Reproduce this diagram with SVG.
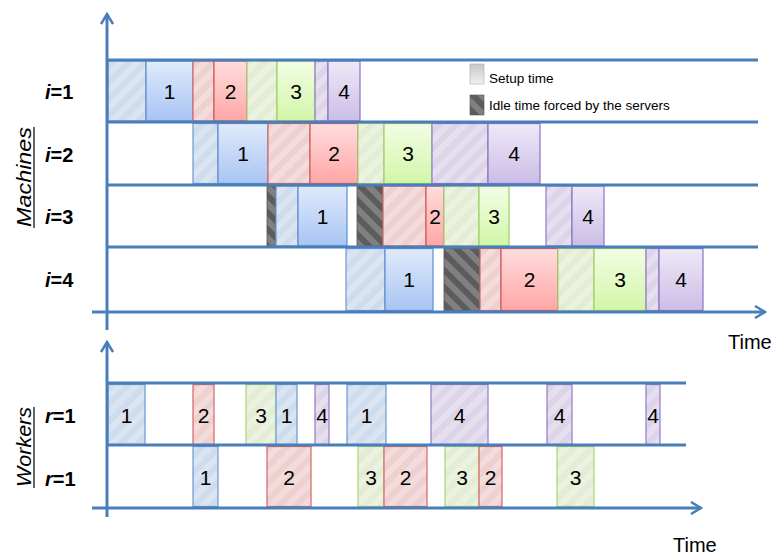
<svg xmlns="http://www.w3.org/2000/svg" width="776" height="556" viewBox="0 0 776 556">
<style>
.ax{stroke:#4a7ebb;stroke-width:3;fill:none}
.n{font-family:"Liberation Sans",Arial,sans-serif;font-size:21px;text-anchor:middle;fill:#000}
.lb{font-family:"Liberation Sans",Arial,sans-serif;font-size:20px;font-weight:bold;fill:#000}
.ttl{font-family:"Liberation Sans",Arial,sans-serif;font-size:21px;font-style:italic;fill:#000}
.tm{font-family:"Liberation Sans",Arial,sans-serif;font-size:20px;fill:#000}
.lg{font-family:"Liberation Sans",Arial,sans-serif;font-size:13.5px;fill:#000}
.jB{fill:url(#gB);stroke:#5d8ed3;stroke-width:1.2}
.jR{fill:url(#gR);stroke:#d05a57;stroke-width:1.2}
.jG{fill:url(#gG);stroke:#9fcf66;stroke-width:1.2}
.jP{fill:url(#gP);stroke:#8e72c4;stroke-width:1.2}
.sB{fill:url(#pB);stroke:#6a98d4;stroke-width:1.2}
.sR{fill:url(#pR);stroke:#d66663;stroke-width:1.2}
.sG{fill:url(#pG);stroke:#a8d472;stroke-width:1.2}
.sP{fill:url(#pP);stroke:#9479c6;stroke-width:1.2}
.id{fill:url(#pI);stroke:#555;stroke-width:0.8}
</style>
<defs>
<linearGradient id="gB" x1="0" y1="0" x2="0" y2="1"><stop offset="0" stop-color="#e0eafb"/><stop offset="1" stop-color="#a8c5f3"/></linearGradient>
<linearGradient id="gR" x1="0" y1="0" x2="0" y2="1"><stop offset="0" stop-color="#ffdddd"/><stop offset="1" stop-color="#ffa6a6"/></linearGradient>
<linearGradient id="gG" x1="0" y1="0" x2="0" y2="1"><stop offset="0" stop-color="#f2fde4"/><stop offset="1" stop-color="#d3f6a9"/></linearGradient>
<linearGradient id="gP" x1="0" y1="0" x2="0" y2="1"><stop offset="0" stop-color="#eee9f7"/><stop offset="1" stop-color="#cbbde7"/></linearGradient>
<linearGradient id="gS" x1="0" y1="0" x2="0" y2="1"><stop offset="0" stop-color="#c8c8c8"/><stop offset="1" stop-color="#f0f0f0"/></linearGradient>
<pattern id="pB" width="12" height="12" patternUnits="userSpaceOnUse" patternTransform="rotate(45)"><rect width="12" height="12" fill="#dbe5f2"/><rect width="6" height="12" fill="#cfdcee"/></pattern>
<pattern id="pR" width="12" height="12" patternUnits="userSpaceOnUse" patternTransform="rotate(45)"><rect width="12" height="12" fill="#f4dcdc"/><rect width="6" height="12" fill="#eed0d0"/></pattern>
<pattern id="pG" width="12" height="12" patternUnits="userSpaceOnUse" patternTransform="rotate(45)"><rect width="12" height="12" fill="#ecf2e0"/><rect width="6" height="12" fill="#e3ecd4"/></pattern>
<pattern id="pP" width="12" height="12" patternUnits="userSpaceOnUse" patternTransform="rotate(45)"><rect width="12" height="12" fill="#e6e0ee"/><rect width="6" height="12" fill="#dcd4e8"/></pattern>
<pattern id="pI" width="12" height="12" patternUnits="userSpaceOnUse" patternTransform="rotate(-45)"><rect width="12" height="12" fill="#808080"/><rect width="6" height="12" fill="#5c5c5c"/></pattern>
<marker id="ar" viewBox="0 0 14 14" refX="12" refY="7" markerWidth="14" markerHeight="14" markerUnits="userSpaceOnUse" orient="auto"><path d="M2,1 L12,7 L2,13" fill="none" stroke="#4a7ebb" stroke-width="2.5"/></marker>
</defs>
<rect width="776" height="556" fill="#fff"/>

<!-- machine row 1 -->
<g id="m1">
<g id="m1-s1"><rect class="sB" x="108" y="61" width="38" height="60"/></g>
<g id="m1-j1"><rect class="jB" x="146" y="61" width="47" height="60"/><text class="n" x="169.5" y="99">1</text></g>
<g id="m1-s2"><rect class="sR" x="193" y="61" width="21" height="60"/></g>
<g id="m1-j2"><rect class="jR" x="214" y="61" width="33" height="60"/><text class="n" x="230.5" y="99">2</text></g>
<g id="m1-s3"><rect class="sG" x="247" y="61" width="30" height="60"/></g>
<g id="m1-j3"><rect class="jG" x="277" y="61" width="38" height="60"/><text class="n" x="296" y="99">3</text></g>
<g id="m1-s4"><rect class="sP" x="315" y="61" width="13" height="60"/></g>
<g id="m1-j4"><rect class="jP" x="328" y="61" width="32" height="60"/><text class="n" x="344" y="99">4</text></g>
</g>
<!-- machine row 2 -->
<g id="m2">
<g id="m2-s1"><rect class="sB" x="193" y="123.5" width="25" height="60"/></g>
<g id="m2-j1"><rect class="jB" x="218" y="123.5" width="50" height="60"/><text class="n" x="243" y="161">1</text></g>
<g id="m2-s2"><rect class="sR" x="268" y="123.5" width="42" height="60"/></g>
<g id="m2-j2"><rect class="jR" x="310" y="123.5" width="48" height="60"/><text class="n" x="334" y="161">2</text></g>
<g id="m2-s3"><rect class="sG" x="358" y="123.5" width="26" height="60"/></g>
<g id="m2-j3"><rect class="jG" x="384" y="123.5" width="48" height="60"/><text class="n" x="408" y="161">3</text></g>
<g id="m2-s4"><rect class="sP" x="432" y="123.5" width="56" height="60"/></g>
<g id="m2-j4"><rect class="jP" x="488" y="123.5" width="52" height="60"/><text class="n" x="514" y="161">4</text></g>
</g>
<!-- machine row 3 -->
<g id="m3">
<g id="m3-i1"><rect class="id" x="267" y="186" width="9" height="60"/></g>
<g id="m3-s1"><rect class="sB" x="276" y="186" width="22" height="60"/></g>
<g id="m3-j1"><rect class="jB" x="298" y="186" width="49" height="60"/><text class="n" x="322.5" y="224">1</text></g>
<g id="m3-i2"><rect class="id" x="357" y="186" width="26" height="60"/></g>
<g id="m3-s2"><rect class="sR" x="383" y="186" width="43" height="60"/></g>
<g id="m3-j2"><rect class="jR" x="426" y="186" width="18" height="60"/><text class="n" x="435" y="224">2</text></g>
<g id="m3-s3"><rect class="sG" x="444" y="186" width="35" height="60"/></g>
<g id="m3-j3"><rect class="jG" x="479" y="186" width="30" height="60"/><text class="n" x="494" y="224">3</text></g>
<g id="m3-s4"><rect class="sP" x="546" y="186" width="26" height="60"/></g>
<g id="m3-j4"><rect class="jP" x="572" y="186" width="32" height="60"/><text class="n" x="588" y="224">4</text></g>
</g>
<!-- machine row 4 -->
<g id="m4">
<g id="m4-s1"><rect class="sB" x="346" y="248.5" width="39" height="62"/></g>
<g id="m4-j1"><rect class="jB" x="385" y="248.5" width="48" height="62"/><text class="n" x="409" y="287">1</text></g>
<g id="m4-i1"><rect class="id" x="444" y="248.5" width="36" height="62"/></g>
<g id="m4-s2"><rect class="sR" x="480" y="248.5" width="21" height="62"/></g>
<g id="m4-j2"><rect class="jR" x="501" y="248.5" width="57" height="62"/><text class="n" x="529.5" y="287">2</text></g>
<g id="m4-s3"><rect class="sG" x="558" y="248.5" width="36" height="62"/></g>
<g id="m4-j3"><rect class="jG" x="594" y="248.5" width="52" height="62"/><text class="n" x="620" y="287">3</text></g>
<g id="m4-s4"><rect class="sP" x="646" y="248.5" width="13" height="62"/></g>
<g id="m4-j4"><rect class="jP" x="659" y="248.5" width="44" height="62"/><text class="n" x="681" y="287">4</text></g>
</g>

<!-- worker row 1 -->
<g id="w1">
<g id="w1-a"><rect class="sB" x="108" y="384.5" width="37" height="60"/><text class="n" x="126.5" y="423">1</text></g>
<g id="w1-b"><rect class="sR" x="193" y="384.5" width="21" height="60"/><text class="n" x="203.5" y="423">2</text></g>
<g id="w1-c"><rect class="sG" x="246" y="384.5" width="30" height="60"/><text class="n" x="261" y="423">3</text></g>
<g id="w1-d"><rect class="sB" x="276" y="384.5" width="21" height="60"/><text class="n" x="286.5" y="423">1</text></g>
<g id="w1-e"><rect class="sP" x="315" y="384.5" width="14" height="60"/><text class="n" x="322" y="423">4</text></g>
<g id="w1-f"><rect class="sB" x="347" y="384.5" width="39" height="60"/><text class="n" x="366.5" y="423">1</text></g>
<g id="w1-g"><rect class="sP" x="431" y="384.5" width="57" height="60"/><text class="n" x="459.5" y="423">4</text></g>
<g id="w1-h"><rect class="sP" x="547" y="384.5" width="25" height="60"/><text class="n" x="559.5" y="423">4</text></g>
<g id="w1-i"><rect class="sP" x="646" y="384.5" width="14" height="60"/><text class="n" x="653" y="423">4</text></g>
</g>
<!-- worker row 2 -->
<g id="w2">
<g id="w2-a"><rect class="sB" x="193" y="446.5" width="25" height="60"/><text class="n" x="205.5" y="485">1</text></g>
<g id="w2-b"><rect class="sR" x="267" y="446.5" width="44" height="60"/><text class="n" x="289" y="485">2</text></g>
<g id="w2-c"><rect class="sG" x="358" y="446.5" width="26" height="60"/><text class="n" x="371" y="485">3</text></g>
<g id="w2-d"><rect class="sR" x="384" y="446.5" width="43" height="60"/><text class="n" x="405.5" y="485">2</text></g>
<g id="w2-e"><rect class="sG" x="445" y="446.5" width="34" height="60"/><text class="n" x="462" y="485">3</text></g>
<g id="w2-f"><rect class="sR" x="479" y="446.5" width="23" height="60"/><text class="n" x="490.5" y="485">2</text></g>
<g id="w2-g"><rect class="sG" x="557" y="446.5" width="37" height="60"/><text class="n" x="575.5" y="485">3</text></g>
</g>

<!-- axes and grid lines -->
<g id="connectors">
<line class="ax" x1="107" y1="60" x2="758" y2="60"/>
<line class="ax" x1="107" y1="122" x2="758" y2="122"/>
<line class="ax" x1="107" y1="185" x2="758" y2="185"/>
<line class="ax" x1="107" y1="247" x2="758" y2="247"/>
<line class="ax" x1="92" y1="312" x2="765" y2="312" marker-end="url(#ar)"/>
<line class="ax" x1="107" y1="330" x2="107" y2="14" marker-end="url(#ar)"/>
<line class="ax" x1="107" y1="383" x2="686" y2="383"/>
<line class="ax" x1="107" y1="445" x2="686" y2="445"/>
<line class="ax" x1="92" y1="508" x2="701" y2="508" marker-end="url(#ar)"/>
<line class="ax" x1="107" y1="517" x2="107" y2="342" marker-end="url(#ar)"/>
</g>

<!-- legend -->
<g id="legend">
<rect x="470" y="64" width="14" height="20" fill="url(#gS)" stroke="#aaa" stroke-width="0.6"/>
<text class="lg" x="489" y="83">Setup time</text>
<rect x="470" y="95" width="14" height="20" fill="url(#pI)" stroke="#555" stroke-width="0.6"/>
<text class="lg" x="489" y="110">Idle time forced by the servers</text>
</g>

<!-- labels -->
<g id="labels">
<text class="lb" x="45" y="99"><tspan font-style="italic">i</tspan>=1</text>
<text class="lb" x="45" y="162"><tspan font-style="italic">i</tspan>=2</text>
<text class="lb" x="45" y="224"><tspan font-style="italic">i</tspan>=3</text>
<text class="lb" x="45" y="287"><tspan font-style="italic">i</tspan>=4</text>
<text class="lb" x="45" y="423"><tspan font-style="italic">r</tspan>=1</text>
<text class="lb" x="45" y="486"><tspan font-style="italic">r</tspan>=1</text>
<text class="ttl" transform="translate(31,227) rotate(-90)" textLength="100" lengthAdjust="spacingAndGlyphs">Machines</text>
<line x1="34" y1="127" x2="34" y2="228" stroke="#000" stroke-width="1.2"/>
<text class="ttl" transform="translate(31,487) rotate(-90)" textLength="80" lengthAdjust="spacingAndGlyphs">Workers</text>
<line x1="34" y1="407" x2="34" y2="488" stroke="#000" stroke-width="1.2"/>
<text class="tm" x="728" y="349">Time</text>
<text class="tm" x="673" y="552">Time</text>
</g>
</svg>
